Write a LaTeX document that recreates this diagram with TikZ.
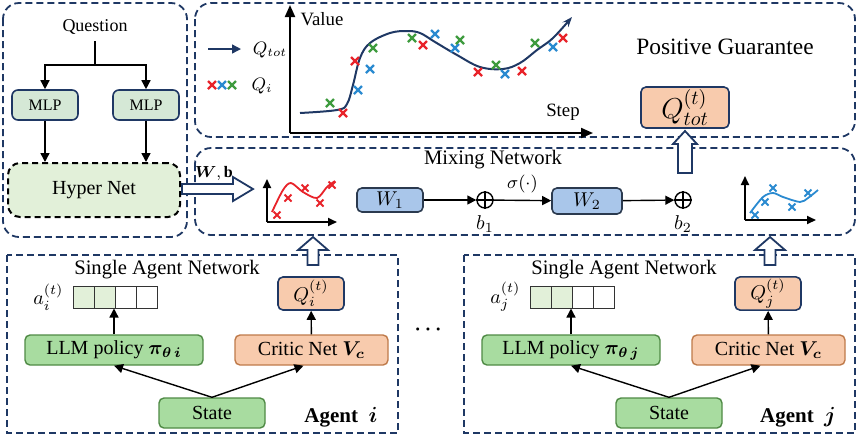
\documentclass[tikz,border=0pt]{standalone}
\usepackage{fontspec}
\setmainfont{Liberation Serif}
\usepackage{amsmath,amssymb,bm}
\usepackage{xcolor}
\usetikzlibrary{arrows.meta,positioning}
\definecolor{navy}{HTML}{1F3864}
\definecolor{mlpfill}{HTML}{D5E8D6}
\definecolor{hyperfill}{HTML}{E2F0D9}
\definecolor{greenfill}{HTML}{A8DCA0}
\definecolor{greenline}{HTML}{4F8A45}
\definecolor{orangefill}{HTML}{F8CBAD}
\definecolor{orangeline}{HTML}{BF7A4A}
\definecolor{wfill}{HTML}{A9C6EA}
\definecolor{wline}{HTML}{2B3A4F}
\definecolor{cellgreen}{HTML}{E2F0D9}
\definecolor{qred}{HTML}{E8232A}
\definecolor{qblue}{HTML}{2A8AD0}
\definecolor{qgreen}{HTML}{3E9B3E}
\newcommand\FatUp[5]{
  \draw[fatarrow] (#1-#4,#2) -- (#1-#4,#3+13) -- (#1-#5,#3+13) -- (#1,#3)
    -- (#1+#5,#3+13) -- (#1+#4,#3+13) -- (#1+#4,#2) -- cycle;
}
\newcommand\AgentNet[2]{
  \def\dx{#1} \def\ag{#2}
  \begin{scope}[shift={(\dx,0)}]
  \draw[agentframe] (7,255) rectangle (398,433);
  \node[title] at (167,270) {Single Agent Network};
  \foreach \k/\fillc in {0/cellgreen,1/cellgreen,2/white,3/white}
  {
    \node[cell, fill=\fillc] (cell\ag\k) at (83.6+21.25*\k,297) {};
  }
  \node[left=1pt of cell\ag0] {$a_{\ag}^{(t)}$};
  \node[qbox] (q\ag) at (311,293.5) {$Q_{\ag}^{(t)}$};
  \node[greenbox, minimum width=89pt] (llm\ag) at (114,350)
    {LLM policy $\bm{\pi}_{\bm{\theta}\,\bm{\ag}}$};
  \node[critbox] (crit\ag) at (311.5,350) {Critic Net $\bm{V_c}$};
  \node[greenbox, minimum width=53pt] (state\ag) at (212,413) {State};
  \node[font=\fontsize{10.5}{12}\selectfont\bfseries] at (341,417) {Agent\ \ $\bm{\ag}$};
  \draw[arr] (state\ag.north) -- (llm\ag.south);
  \draw[arr] (state\ag.north) -- ([xshift=-4pt]crit\ag.south);
  \draw[arr] (llm\ag) -- (llm\ag |- cell\ag1.south);
  \draw[arr] (crit\ag) -- (q\ag);
  \FatUp{313}{265}{237}{5.5}{15}
  \end{scope}
}
\begin{document}
\begin{tikzpicture}[x=0.5pt, y=-0.5pt,
  panel/.style={draw=navy, line width=0.9pt, dash pattern=on 3.5pt off 2pt, rounded corners=8pt},
  agentframe/.style={draw=navy, line width=0.9pt, dash pattern=on 3.5pt off 2pt},
  fatarrow/.style={draw=navy, fill=white, line width=0.9pt, line join=miter},
  arr/.style={-{Triangle[length=4.5pt,width=4.5pt]}, line width=0.7pt},
  axis/.style={-{Triangle[length=6pt,width=5pt]}, line width=1pt},
  smallaxis/.style={-{Triangle[length=4.5pt,width=4pt]}, line width=0.9pt},
  title/.style={font=\fontsize{10.3}{12}\selectfont},
  mlp/.style={draw=navy, fill=mlpfill, line width=0.8pt, rounded corners=3pt,
    minimum width=33pt, minimum height=15pt, font=\fontsize{8}{9}\selectfont},
  hyper/.style={draw=black, fill=hyperfill, line width=1pt, dash pattern=on 3pt off 2pt,
    rounded corners=6pt, minimum width=86pt, minimum height=27pt},
  greenbox/.style={draw=greenline, fill=greenfill, line width=0.7pt, rounded corners=2.5pt,
    minimum height=15pt, inner sep=1pt},
  critbox/.style={draw=orangeline, fill=orangefill, line width=0.7pt, rounded corners=2.5pt,
    minimum width=76.5pt, minimum height=15pt, inner sep=1pt},
  qbox/.style={draw=navy, fill=orangefill, line width=0.8pt, rounded corners=2.5pt,
    minimum width=33pt, minimum height=16.5pt, inner sep=1pt},
  wbox/.style={draw=wline, fill=wfill, line width=0.8pt, rounded corners=2.5pt,
    minimum width=33pt, minimum height=12pt, inner sep=1pt},
  cell/.style={draw=black!80, line width=0.5pt, minimum width=10.6pt, minimum height=11pt, inner sep=0pt},
  plus/.style={draw, circle, line width=0.7pt, minimum size=8pt, inner sep=0pt},
  xmark/.pic={\draw[line width=1.1pt] (-4,-4) -- (4,4) (-4,4) -- (4,-4);},
  smallx/.pic={\draw[line width=1pt] (-3.5,-3.5) -- (3.5,3.5) (-3.5,3.5) -- (3.5,-3.5);}]
\useasboundingbox (0,0) rectangle (858,436);

% hyper network
\draw[panel] (3,3) rectangle (187,237);
\node[font=\fontsize{9}{10}\selectfont] (question) at (95,27) {Question};
\coordinate (split) at (95,65);
\node[mlp] (mlp1) at (45,105) {MLP};
\node[mlp] (mlp2) at (146,105) {MLP};
\node[hyper] (hyper) at (94,190) {Hyper Net};
\draw[line width=0.7pt] (question) -- (split);
\draw[arr] (split) -| (mlp1);
\draw[arr] (split) -| (mlp2);
\draw[arr] (mlp1) -- (mlp1 |- hyper.north);
\draw[arr] (mlp2) -- (mlp2 |- hyper.north);

% positive guarantee
\draw[panel] (195,3) rectangle (855,137);
\coordinate (lgA) at (208,49);
\coordinate (lgB) at (241,49);
\draw[navy, arr] (lgA) -- (lgB);
\node[font=\fontsize{9}{10}\selectfont] at (270,50) {$Q_{tot}$};
\foreach \x/\c in {212/qred,222/qblue,232/qgreen}
{
  \pic[\c] at (\x,85) {xmark};
}
\node[font=\fontsize{9}{10}\selectfont] at (262,86) {$Q_i$};
\draw[axis] (290,133) -- (290,5);
\draw[axis] (290,133) -- (593,133);
\node[font=\fontsize{9.4}{10}\selectfont] at (322,19) {Value};
\node[font=\fontsize{9.4}{10}\selectfont] at (563,112) {Step};
\draw[navy, line width=1pt, -{Stealth[length=5pt]}] plot[smooth, tension=0.6] coordinates
  {(300,113) (337,110) (347,104) (353,85) (360,58) (370,43) (390,33) (407,31) (420,33)
   (435,42) (457,55) (480,67) (503,69) (520,63) (537,50) (553,38) (572,17)};
\foreach \x/\y/\c in {330/103/qgreen, 343/113/qred, 358/90/qblue, 355/61/qred,
  370/69/qblue, 373/48/qgreen, 412/38/qgreen, 423/45/qred, 435/34/qblue,
  455/48/qblue, 460/40/qgreen, 478/72/qred, 496/65/qgreen, 505/74/qblue,
  522/71/qred, 535/43/qgreen, 553/47/qblue, 563/38/qred}
{
  \pic[\c] at (\x,\y) {xmark};
}
\node[font=\fontsize{11.7}{13}\selectfont] at (725,47) {Positive Guarantee};
\node[qbox, minimum width=44pt, minimum height=20.5pt] (qtot) at (685,107.5) {\Large $Q_{tot}^{(t)}$};

% mixing network
\draw[panel] (195,148) rectangle (855,235);
\node[title] at (493,160) {Mixing Network};
\draw[fatarrow] (182,184) -- (233,184) -- (233,177) -- (253,189) -- (233,201)
  -- (233,194) -- (182,194) -- cycle;
\node[font=\fontsize{8}{9}\selectfont] at (214,173) {$\bm{W},\mathbf{b}$};
\draw[smallaxis] (267,222) -- (267,179);
\draw[smallaxis] (267,222) -- (337,222);
\draw[qred, line width=0.9pt] plot[smooth] coordinates
  {(272,212) (283,190) (291,183) (303,192) (317,198) (327,187) (335,181)};
\foreach \x/\y in {277/215, 288/198, 305/188, 320/203, 332/185}
{
  \pic[qred] at (\x,\y) {smallx};
}
\node[wbox] (w1) at (390,200) {$W_1$};
\node[plus] (p1) at (485,200) {};
\draw[line width=0.7pt] (p1.north) -- (p1.south) (p1.west) -- (p1.east);
\node[below=0pt of p1] {$b_1$};
\node[wbox, minimum width=35pt, minimum height=13pt] (w2) at (587,201) {$W_2$};
\node[plus] (p2) at (683,200) {};
\draw[line width=0.7pt] (p2.north) -- (p2.south) (p2.west) -- (p2.east);
\node[below=0pt of p2] {$b_2$};
\draw[arr] (w1) -- (p1);
\draw[arr] (p1) -- node[above, font=\small]{$\sigma(\cdot)$} (w2);
\draw[arr] (w2) -- (p2);
\draw[smallaxis] (745,220) -- (745,176);
\draw[smallaxis] (745,220) -- (816,220);
\draw[qblue, line width=0.9pt] plot[smooth] coordinates
  {(750,213) (763,197) (773,193) (783,197) (800,202) (808,198) (818,190)};
\foreach \x/\y in {755/215, 765/202, 773/188, 792/207, 808/193}
{
  \pic[qblue] at (\x,\y) {smallx};
}
\FatUp{685}{173}{131}{7}{12}

% agents
\AgentNet{0}{i}
\AgentNet{457}{j}
\node[font=\bfseries] (dots) at (430,330) {$\bm{\cdots}$};
\end{tikzpicture}
\end{document}
